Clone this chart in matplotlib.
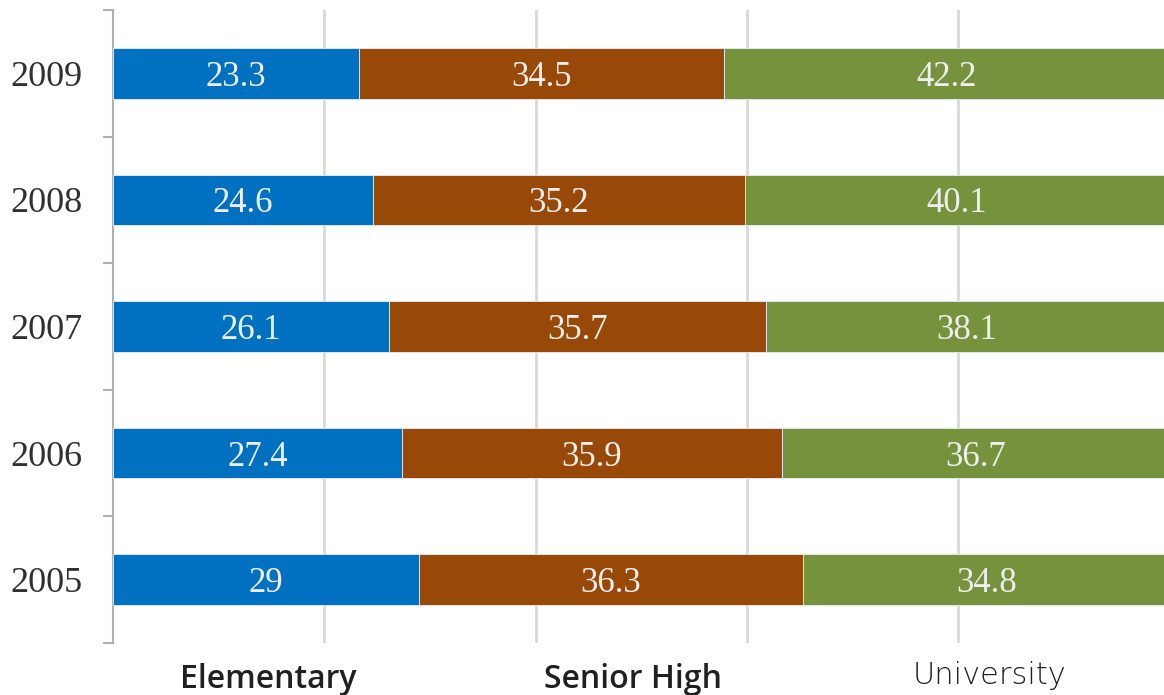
import matplotlib.pyplot as plt
import matplotlib.transforms as mtransforms
import numpy as np

years = ["2005", "2006", "2007", "2008", "2009"]
elementary = [29, 27.4, 26.1, 24.6, 23.3]
senior_high = [36.3, 35.9, 35.7, 35.2, 34.5]
university = [34.8, 36.7, 38.1, 40.1, 42.2]
series_names = ["Elementary", "Senior High", "University"]
colors = ["#0070C0", "#984807", "#76923C"]

fig = plt.figure(figsize=(11.64, 6.95), dpi=100)
ax = fig.add_axes([113 / 1164, 1 - 643 / 695, 1 - 113 / 1164, (643 - 10) / 695])

y = np.arange(len(years))
left = np.zeros(len(years))
for vals, col in zip([elementary, senior_high, university], colors):
    vals = np.array(vals)
    ax.barh(y, vals, left=left, height=0.4, color=col,
            edgecolor="#e8eef5", linewidth=0.6, zorder=3)
    for yi, l, v in zip(y, left, vals):
        ax.text(l + v / 2, yi, f"{v:g}", ha="center", va="center_baseline",
                fontsize=25, family="Liberation Serif", color="#eeeeee", zorder=4)
    left = left + vals

ax.set_xlim(0, 99.5)
ax.set_ylim(-0.5, 4.5)

# gridlines
ax.set_xticks([20, 40, 60, 80])
ax.tick_params(axis="x", length=0, labelbottom=False)
ax.grid(axis="x", color="#d9d9d9", linewidth=2, zorder=0)

# y axis: labels at centers, ticks at the category boundaries
ax.set_yticks(y)
ax.set_yticklabels(years, fontsize=26, family="Liberation Serif", color="#303030")
ax.tick_params(axis="y", which="major", length=0, pad=22)
ax.set_yticks(np.arange(-0.5, 5, 1), minor=True)
ax.tick_params(axis="y", which="minor", length=7, width=1.5, color="#b0b0b0")

for s in ["top", "right", "bottom"]:
    ax.spines[s].set_visible(False)
ax.spines["left"].set_color("#b0b0b0")
ax.spines["left"].set_linewidth(1.5)

# category names below the bars
trans = mtransforms.blended_transform_factory(ax.transData, fig.transFigure)
ax.text(14.7, 1 - 679 / 695, series_names[0], transform=trans, ha="center", va="center",
        fontsize=23, family="Open Sans", fontweight="semibold", color="#202020", clip_on=False)
ax.text(49.2, 1 - 679 / 695, series_names[1], transform=trans, ha="center", va="center",
        fontsize=23, family="Open Sans", fontweight="semibold", color="#202020", clip_on=False)
ax.text(83.0, 1 - 676 / 695, series_names[2], transform=trans, ha="center", va="center",
        fontsize=22, family="DejaVu Sans", fontweight="light", color="#202020", clip_on=False)

fig.savefig("out.png", dpi=100)
